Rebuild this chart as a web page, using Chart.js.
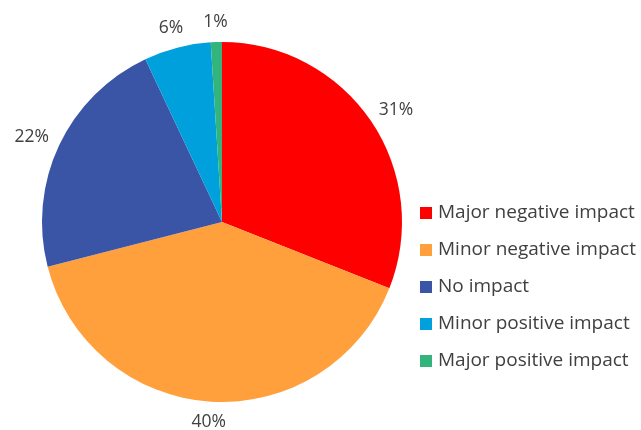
<!DOCTYPE html>
<html>
<head>
<meta charset="utf-8">
<script src="https://cdn.jsdelivr.net/npm/chart.js@4"></script>
<style>
  html, body { margin: 0; padding: 0; background: #fff; }
  #wrap { width: 641px; height: 430px; }
</style>
</head>
<body>
<div id="wrap"><canvas id="pieChart" width="641" height="430"></canvas></div>
<script>
var categories = ["Major negative impact", "Minor negative impact", "No impact", "Minor positive impact", "Major positive impact"];
var shares = [31, 40, 22, 6, 1];
var sliceColors = ["#ff0000", "#ffa03c", "#3a55a6", "#00a0dc", "#33b47c"];

var textFont = "'Open Sans', sans-serif";

// percentage labels outside each slice, placed like a box just off the edge
var outLabels = {
    id: 'outLabels',
    afterDatasetsDraw: function (chart) {
        var ctx = chart.ctx;
        var meta = chart.getDatasetMeta(0);
        ctx.save();
        ctx.font = "17.5px " + textFont;
        ctx.fillStyle = "#404040";
        ctx.textAlign = "center";
        ctx.textBaseline = "middle";
        meta.data.forEach(function (arc, i) {
            var p = arc.getProps(['x', 'y', 'startAngle', 'endAngle', 'outerRadius'], true);
            var mid = (p.startAngle + p.endAngle) / 2;
            var txt = shares[i] + "%";
            var hw = ctx.measureText(txt).width / 2;
            var r = p.outerRadius + 13;
            var cx = p.x + Math.cos(mid) * r + Math.cos(mid) * hw;
            var cy = p.y + Math.sin(mid) * r + Math.sin(mid) * 7;
            ctx.fillText(txt, cx, cy);
        });
        ctx.restore();
    }
};

// legend on the right, drawn by hand to keep its spacing
var sideLegend = {
    id: 'sideLegend',
    afterDraw: function (chart) {
        var ctx = chart.ctx;
        ctx.save();
        ctx.font = "19px " + textFont;
        ctx.textBaseline = "middle";
        chart.data.labels.forEach(function (lbl, i) {
            var y = 213 + i * 37;
            ctx.fillStyle = sliceColors[i];
            ctx.fillRect(420, y - 6, 12, 12);
            ctx.fillStyle = "#404040";
            ctx.fillText(lbl, 438, y);
        });
        ctx.restore();
    }
};

var ctx2 = document.getElementById("pieChart").getContext("2d");
new Chart(ctx2, {
    type: 'pie',
    data: {
        labels: categories,
        datasets: [{
            data: shares,
            backgroundColor: sliceColors,
            borderWidth: 0
        }]
    },
    options: {
        responsive: false,
        animation: false,
        layout: { padding: { left: 42, top: 42, right: 239, bottom: 28 } },
        plugins: {
            legend: { display: false },
            tooltip: { enabled: false }
        }
    },
    plugins: [outLabels, sideLegend]
});
</script>
</body>
</html>
